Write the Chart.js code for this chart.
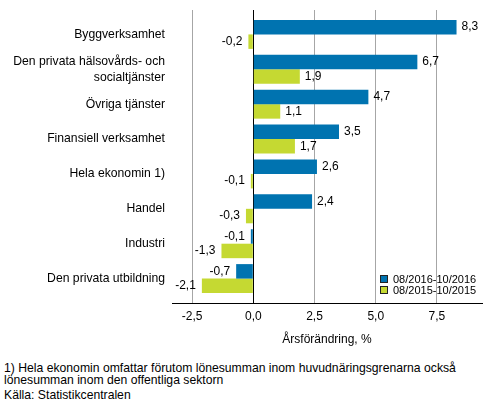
<!DOCTYPE html>
<html lang="sv">
<head>
<meta charset="utf-8">
<script src="https://cdn.jsdelivr.net/npm/chart.js@4.4.1/dist/chart.umd.min.js"></script>
<style>
    body { margin: 0; background: #fff; font-family: "Liberation Sans", Arial, sans-serif; color: #000; }
    #wrap { position: relative; width: 493px; height: 416px; overflow: hidden; }
    #legend { position: absolute; left: 380px; top: 273px; font-size: 11px; }
    .item { display: flex; align-items: center; height: 11.5px; }
    .box { width: 6px; height: 6px; border: 1px solid #222; margin-right: 5px; }
    #note { position: absolute; left: 4px; top: 362px; font-size: 12.2px; line-height: 12px; }
    #source { margin-top: 3px; }
</style>
</head>
<body>
<div id="wrap">
    <canvas id="myChart" width="493" height="350"></canvas>
    <div id="legend"></div>
    <div id="note">
        <div>1) Hela ekonomin omfattar förutom lönesumman inom huvudnäringsgrenarna också<br>lönesumman inom den offentliga sektorn</div>
        <div id="source">Källa: Statistikcentralen</div>
    </div>
</div>
<script>
// データ
const categories = [
    "Byggverksamhet",
    "Den privata hälsovårds- och\nsocialtjänster",
    "Övriga tjänster",
    "Finansiell verksamhet",
    "Hela ekonomin 1)",
    "Handel",
    "Industri",
    "Den privata utbildning",
];
const seriesNames = ["08/2016-10/2016", "08/2015-10/2015"];
const values2016 = [8.3, 6.7, 4.7, 3.5, 2.6, 2.4, -0.1, -0.7];
const values2015 = [-0.2, 1.9, 1.1, 1.7, -0.1, -0.3, -1.3, -2.1];
const xTicks = [-2.5, 0, 2.5, 5, 7.5];
const colors = ["#0073b0", "#c5d932"];

// 数値をカンマ区切りの文字列にする
function fmt(v) {
    return v.toFixed(1).replace(".", ",");
}

// 棒の横に値を表示するプラグイン
const valueLabels = {
    id: "valueLabels",
    afterDatasetsDraw(chart) {
        const ctx = chart.ctx;
        ctx.save();
        ctx.font = '12px "Liberation Sans", Arial, sans-serif';
        ctx.fillStyle = "#000";
        ctx.textBaseline = "middle";
        chart.data.datasets.forEach((ds, di) => {
            chart.getDatasetMeta(di).data.forEach((bar, i) => {
                const v = ds.data[i].x;
                ctx.textAlign = v < 0 ? "right" : "left";
                ctx.fillText(fmt(v), v < 0 ? bar.x - 6 : bar.x + 5, bar.y);
            });
        });
        ctx.restore();
    },
};

// 凡例を作る
function buildLegend() {
    const legend = document.getElementById("legend");
    seriesNames.forEach((name, i) => {
        const item = document.createElement("div");
        item.className = "item";
        const box = document.createElement("span");
        box.className = "box";
        box.style.background = colors[i];
        item.appendChild(box);
        item.appendChild(document.createTextNode(name));
        legend.appendChild(item);
    });
}

function drawChart() {
    Chart.defaults.font.family = '"Liberation Sans", Arial, sans-serif';
    Chart.defaults.color = "#000";

    const data = {
        datasets: [values2016, values2015].map((vals, i) => ({
            label: seriesNames[i],
            backgroundColor: colors[i],
            borderWidth: 0,
            data: vals.map((v, idx) => ({ x: v, y: idx })),
        })),
    };

    const ctx = document.getElementById("myChart");
    new Chart(ctx, {
        type: "bar",
        data,
        plugins: [valueLabels],
        options: {
            indexAxis: "y",
            responsive: false,
            animation: false,
            layout: { padding: { top: 10, right: 11, left: 0, bottom: 0 } },
            plugins: { legend: { display: false }, tooltip: { enabled: false } },
            datasets: { bar: { categoryPercentage: 0.83, barPercentage: 1 } },
            scales: {
                x: {
                    type: "linear",
                    min: -3.32,
                    max: 9.34,
                    afterBuildTicks: (s) => { s.ticks = xTicks.map((v) => ({ value: v })); },
                    afterFit: (s) => { s.height = 47; s.paddingLeft = 0; s.paddingRight = 0; },
                    grid: {
                        color: (c) => (c.tick && c.tick.value === 0 ? "#000" : "#a6a6a6"),
                        drawTicks: false,
                        lineWidth: 1,
                    },
                    border: { color: "#000", width: 1 },
                    ticks: { padding: 6, font: { size: 12 }, callback: (v) => fmt(v) },
                    title: {
                        display: true,
                        text: "Årsförändring, %",
                        font: { size: 12 },
                        padding: { top: 4, bottom: 3 },
                    },
                },
                y: {
                    type: "linear",
                    reverse: true,
                    offset: false,
                    min: -0.7,
                    max: 7.7,
                    afterBuildTicks: (s) => { s.ticks = categories.map((c, i) => ({ value: i })); },
                    afterFit: (s) => { s.width = 172; s.paddingTop = 0; s.paddingBottom = 0; },
                    grid: { display: false, drawTicks: false, offset: false },
                    border: { display: false },
                    ticks: {
                        padding: 7,
                        font: { size: 12.2, lineHeight: 1.3 },
                        callback: (v) => categories[v].split("\n"),
                    },
                },
            },
        },
    });
}

window.onload = function () {
    buildLegend();
    drawChart();
};
</script>
</body>
</html>
